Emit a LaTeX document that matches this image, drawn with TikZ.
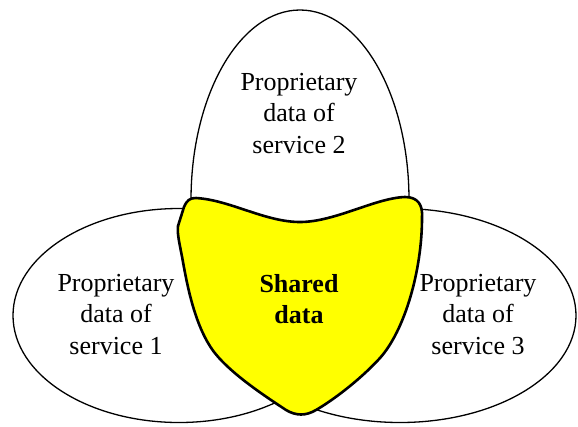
\documentclass[tikz,border=0pt]{standalone}
\usepackage{fontspec}
\setmainfont{Liberation Serif}
\definecolor{shareyellow}{RGB}{255,255,0}
\begin{document}
\begin{tikzpicture}[x=1pt,y=-1pt,
  outline/.style={draw=black,line width=1.3pt},
  shared/.style={fill=shareyellow,draw=black,line width=2.6pt,line join=round},
  regiontext/.style={align=center,inner sep=0pt,font=\fontsize{26}{31.4}\selectfont},
]
\useasboundingbox (0,0) rectangle (578,426);
% service 2 (top) region
\draw[outline,fill=white] (300,200) ellipse [x radius=109pt, y radius=190pt];
% service 1 and service 3 regions, filled first so they hide the top one
\fill[white] (179,315.5) ellipse [x radius=166pt, y radius=107pt];
\fill[white] (400,315.5) ellipse [x radius=176pt, y radius=107pt];
\draw[outline] (179,315.5) ellipse [x radius=166pt, y radius=107pt];
\draw[outline] (400,315.5) ellipse [x radius=176pt, y radius=107pt];
% shared data region
\draw[shared] (178,226) -- (184,207)
  .. controls (187,200) and (190,198) .. (196,198)
  .. controls (230,200) and (265,222) .. (300,222)
  .. controls (335,222) and (375,198) .. (405,197)
  .. controls (418,197) and (423,205) .. (422,218)
  .. controls (422,270) and (405,330) .. (380,358)
  .. controls (358,382) and (330,402) .. (316,410)
  .. controls (306,416) and (296,416) .. (286,410)
  .. controls (268,398) and (232,375) .. (214,352)
  .. controls (196,328) and (188,290) .. (183,262)
  .. controls (180,245) and (177,235) .. (178,226) -- cycle;
% labels
\node[regiontext] (s2) at (299,113.4) {Proprietary\\data of\\service 2};
\node[regiontext] (s1) at (116,314.5) {Proprietary\\data of\\service 1};
\node[regiontext] (s3) at (478,314.5) {Proprietary\\data of\\service 3};
\node[regiontext,font=\fontsize{26}{31.4}\selectfont\bfseries] (sh) at (299,299) {Shared\\data};
\end{tikzpicture}
\end{document}
